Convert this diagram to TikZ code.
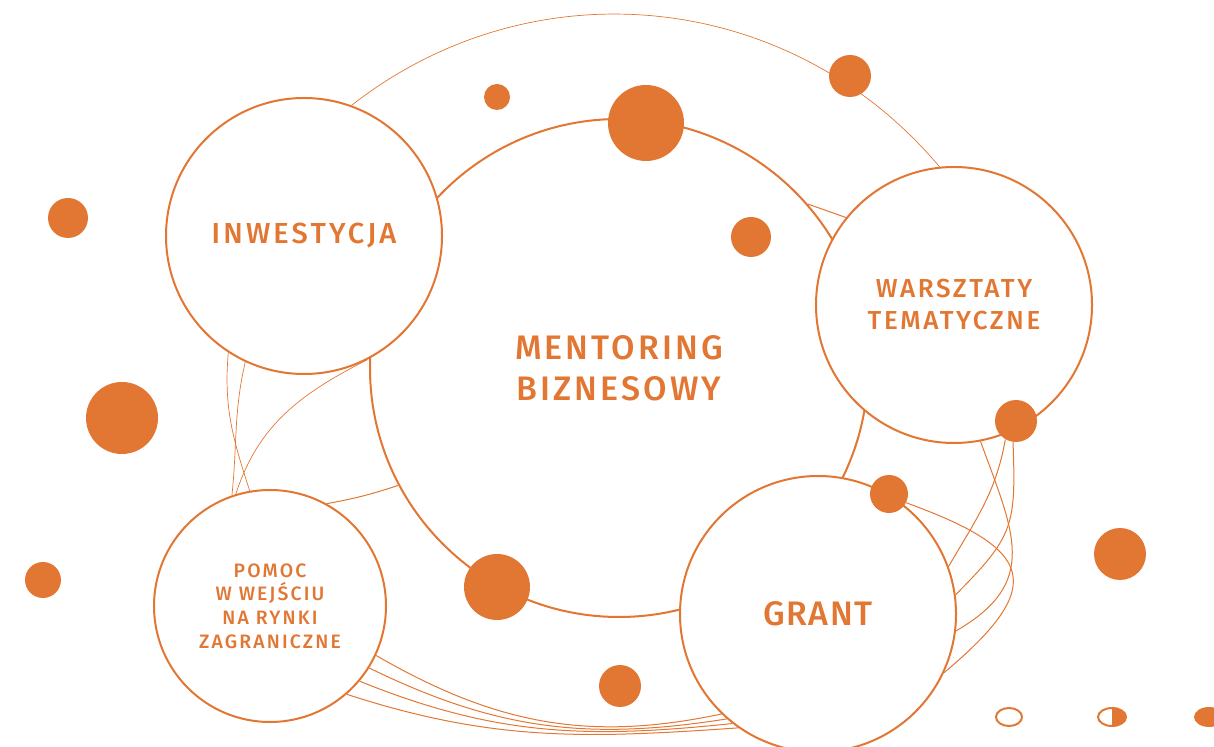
\documentclass[tikz,border=0pt]{standalone}
\usepackage{fontspec}
\setmainfont{Fira Sans}
\newfontfamily\labelfont{Fira Sans Medium}[LetterSpace=5]
\definecolor{pomar}{HTML}{E27733}

\tikzset{
  ring/.style={circle, draw=pomar, line width=1pt, fill=white, inner sep=0pt,
    text=pomar, align=center},
  blob/.style={circle, fill=pomar, inner sep=0pt},
  link/.style={draw=pomar, line width=0.5pt},
  faint/.style={link, line width=0.35pt},
}

\begin{document}
\begin{tikzpicture}[x=0.5pt,y=-0.5pt]
        \useasboundingbox (0,0) rectangle (1214,747);
        \clip (0,0) rectangle (1214,747);

        \node[ring, minimum size=249pt, font={\labelfont\addfontfeature{LetterSpace=9}\fontsize{17}{20.6}\selectfont}] (ment) at (619,368) {MENTORING\\BIZNESOWY};
        \node[ring, minimum size=138pt, font={\labelfont\addfontfeature{LetterSpace=11}\fontsize{14.5}{17}\selectfont}] (inw) at (304,236) {INWESTYCJA};
        \node[ring, minimum size=138pt, font={\labelfont\addfontfeature{LetterSpace=10}\fontsize{13}{16}\selectfont}] (war) at (954,305) {WARSZTATY\\TEMATYCZNE};
        \node[ring, minimum size=138pt, font={\labelfont\fontsize{17}{20}\selectfont}] (grant) at (818,614) {GRANT};
        \node[ring, minimum size=116pt, font={\labelfont\addfontfeature{LetterSpace=11}\fontsize{9.7}{11.8}\selectfont}] (pom) at (270,606) {POMOC\\W WEJŚCIU\\NA RYNKI\\ZAGRANICZNE};

        \node[blob, minimum size=21pt] (wdot) at (1016,421) {};
        \node[blob, minimum size=19pt] (gdot) at (889,494) {};

        \draw[faint] (inw.70) to[bend left=44] (war.96);
        \draw[link] (ment.41) -- (war.141);
        \draw[link] (ment.208) to[bend left=4] (pom.61);

        \draw[faint] (inw.237) to[out=-95,in=108] (pom.100);
        \draw[faint] (inw.245) to[out=-103,in=84] (pom.109);
        \draw[faint] (inw.297) to[out=-153,in=72] (pom.107);

        \foreach \a/\b/\o/\i in {-25/226/-30/192,-32/229/-26/189,-40/232/-22/186,-49/235/-18/184}
            \draw[link] (pom.\a) to[out=\o,in=\i] (grant.\b);

        \draw[link] (war.281) to[out=-70,in=30,looseness=1.3] (grant.-7);
        \draw[link] (wdot.240) to[out=-100,in=60] (grant.20);
        \draw[link] (wdot.262) to[out=-88,in=45,looseness=1.3] (grant.8);
        \draw[link] (gdot.-27) to[out=-20,in=40,looseness=2] (grant.-25);

        \foreach \x/\y/\r [count=\i] in {68/218/20, 122/418/36, 43/580/18, 497/97/13,
            646/123/38, 850/76/21, 751/237/20, 497/587/33, 620/686/21, 1120/554/26}
            \node[blob, minimum size=\r pt] (d\i) at (\x,\y) {};

        \draw[pomar, line width=1pt] (1009,717) ellipse [x radius=13, y radius=9];
        \begin{scope}
            \clip (1112,700) rectangle (1140,735);
            \fill[pomar] (1112,717) ellipse [x radius=14, y radius=9];
        \end{scope}
        \draw[pomar, line width=1pt] (1112,717) ellipse [x radius=14, y radius=9];
        \fill[pomar] (1209,717) ellipse [x radius=15, y radius=10];
    \end{tikzpicture}
\end{document}
